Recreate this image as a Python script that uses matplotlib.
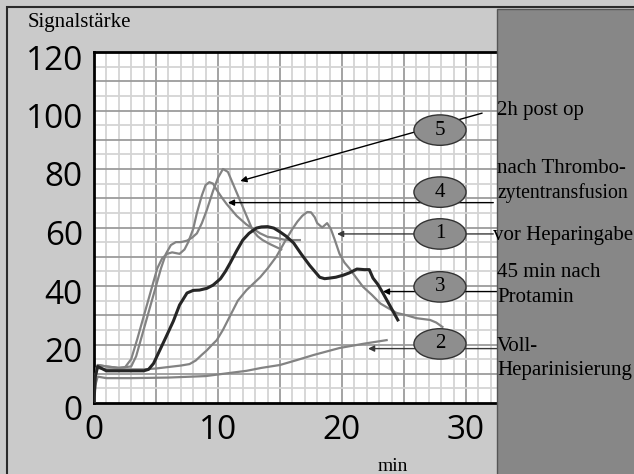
import matplotlib.pyplot as plt
from matplotlib.patches import Rectangle, Ellipse
from matplotlib.transforms import ScaledTranslation
from matplotlib.ticker import MultipleLocator

# Curve data (min, Signalstaerke)
x_vor = [0, 0.2, 1, 2, 3, 4, 5, 6, 7, 7.7, 8.2, 8.7, 9.1, 9.5, 9.9, 10.4, 11.0, 11.6, 12.3,
         12.9, 13.4, 14.0, 14.7, 15.5, 16.0, 16.4, 16.8, 17.2, 17.5, 17.8, 18.0, 18.4,
         18.8, 19.1, 19.4, 19.8, 20.2, 20.6, 21.2, 21.7, 22.4, 23.1, 23.7, 24.4, 25.2,
         26.0, 27.1, 27.6, 28.1]
y_vor = [0, 12, 11.5, 11.5, 11.5, 11.5, 11.8, 12.3, 12.8, 13.3, 14.5, 16.5, 18, 19.8,
         21.5, 25, 30, 35, 38.6, 41, 43, 46, 50, 56, 59.5, 62, 64, 65.3, 65.2, 63.5, 61.5,
         60, 61.5, 59.5, 56, 51, 48, 46, 42.5, 39.7, 37, 34, 32.5, 30.8, 30, 29, 28.4,
         27.5, 26]

x_voll = [0, 0.1, 0.3, 1, 3, 6, 9, 11, 12.3, 13.5, 15, 16.3, 17.7, 19.8, 21.8, 23.6]
y_voll = [0, 6, 9, 8.5, 8.5, 8.7, 9.2, 10.3, 11, 12, 13, 14.6, 16.4, 18.8, 20.3, 21.5]

x_prot = [0, 0.1, 0.3, 1, 2, 3, 4, 4.4, 4.8, 5.3, 5.8, 6.4, 6.9, 7.5, 8.0, 8.5, 9.1, 9.6,
          10.2, 10.6, 11.0, 11.5, 12.0, 12.5, 13.1, 13.5, 14.0, 14.5, 15.0, 15.5, 16.1,
          16.7, 17.4, 17.8, 18.2, 18.6, 19.0, 19.5, 20.1, 20.6, 21.2, 21.8, 22.2, 22.5,
          22.9, 23.3, 23.9, 24.5]
y_prot = [0, 9, 12.5, 11, 11, 11, 11, 11.5, 13.5, 18, 22.5, 28, 33.5, 37.6, 38.5, 38.6,
          39.2, 40.3, 42.5, 45, 48, 52, 55.7, 58, 59.8, 60.2, 60.3, 59.8, 58.5, 57,
          54.7, 51, 47, 45, 43, 42.5, 42.7, 43, 43.7, 44.5, 45.8, 45.6, 45.6, 42.7, 40.5,
          37.6, 33, 28.4]

x_thromb = [0, 0.1, 0.3, 1, 2, 2.5, 3.0, 3.5, 4.3, 5.1, 5.5, 5.9, 6.3, 6.9, 7.3, 7.6, 8.0,
            8.3, 8.7, 9.0, 9.3, 9.6, 9.9, 10.3, 10.7, 11.1, 11.5, 12.3, 13.4, 14.0, 14.7,
            15.5, 16.6]
y_thromb = [0, 9, 13, 12.5, 12, 12.2, 15, 22, 34, 46, 49.5, 51, 51.5, 51, 52.5, 55, 59.5,
            65, 71, 74.5, 75.5, 75, 72.8, 70.3, 68, 66, 64, 61, 58, 56.8, 56.4, 55.7,
            55.7]

x_post = [0, 0.1, 0.3, 1, 2, 3, 3.4, 3.8, 4.6, 5.4, 5.8, 6.2, 6.6, 7.0, 7.5, 7.9, 8.3, 8.7,
          9.1, 9.6, 10.0, 10.4, 10.8, 11.2, 11.6, 12.0, 12.4, 12.8, 13.2, 13.6, 14.2, 14.7,
          15.1]
y_post = [0, 9, 13, 12.5, 12, 12.5, 16, 22, 34, 46, 51, 54, 55, 55, 55.5, 56.5, 58, 61.5,
          66, 72.5, 77, 80, 79, 75, 71, 67, 63, 59, 57, 55.7, 54.3, 53.3, 52.5]

# marker number, label text, arrow tail (x, y), arrow head (x, y), ellipse centre y
marks = [
    ("5", "2h post op", (31.3, 99.1), (11.8, 75.9), 93.3),
    ("4", "nach Thrombo-\nzytentransfusion", (32.2, 68.5), (10.8, 68.5), 72.1),
    ("1", "vor Heparingabe", (32.2, 57.8), (19.6, 57.8), 57.8),
    ("3", "45 min nach\nProtamin", (32.5, 38.1), (23.3, 38.1), 39.7),
    ("2", "Voll-\nHeparinisierung", (32.5, 18.6), (22.1, 18.6), 20.2),
]

W, H = 634, 474
fig = plt.figure(figsize=(W / 100, H / 100), dpi=100, facecolor='#cacaca')
ax = fig.add_axes([94 / W, 1 - 403 / H, (497 - 94) / W, (403 - 52) / H])
ax.set_facecolor('white')

gray = '#838383'
for xs, ys in [(x_voll, y_voll), (x_vor, y_vor), (x_thromb, y_thromb), (x_post, y_post)]:
    ax.plot(xs, ys, color=gray, lw=1.6, zorder=3, solid_joinstyle='round')
ax.plot(x_prot, y_prot, color='#262626', lw=2.2, zorder=4, solid_joinstyle='round')

ax.set_xlim(0, 32.5)
ax.set_ylim(0, 120)
ax.xaxis.set_major_locator(MultipleLocator(10))
ax.yaxis.set_major_locator(MultipleLocator(20))

# graph paper grid
for v in range(1, 33):
    ax.axvline(v, color='#9c9c9c' if v % 5 == 0 else '#d4d4d4', lw=1.3, zorder=1)
for v in range(5, 120, 5):
    ax.axhline(v, color='#9c9c9c' if v % 10 == 0 else '#d4d4d4', lw=1.3, zorder=1)

for s in ['left', 'bottom', 'top']:
    ax.spines[s].set_linewidth(2)
    ax.spines[s].set_color('black')
ax.spines['right'].set_visible(False)

ax.tick_params(length=0, labelsize=24, pad=8)
for lab in ax.get_xticklabels() + ax.get_yticklabels():
    lab.set_fontfamily('Open Sans')
for lab in ax.get_yticklabels():
    lab.set_transform(lab.get_transform() + ScaledTranslation(0, -0.05, fig.dpi_scale_trans))

# right grey panel and outer frame
fig.patches.append(Rectangle((497 / W, -0.1), 0.5, 1.1 - 9 / H, transform=fig.transFigure,
                             facecolor='#878787', edgecolor='#555555', lw=1, zorder=2))
fig.patches.append(Rectangle((7 / W, -0.1), 1, 1.1 - 7 / H, transform=fig.transFigure,
                             fill=False, edgecolor='#2a2a2a', lw=1.5, zorder=2))

serif = 'Liberation Serif'
for num, text, tail, head, ey in marks:
    col = 'black' if num in ('5', '4', '3') else '#3a3a3a'
    ax.annotate('', xy=head, xytext=tail, annotation_clip=False, zorder=5,
                arrowprops=dict(arrowstyle='-|>', color=col, lw=1.0, mutation_scale=9,
                                shrinkA=0, shrinkB=0))
    ax.add_patch(Ellipse((27.9, ey), 4.2, 10.4, facecolor='#8e8e8e', edgecolor='#333333',
                         lw=1.0, zorder=6, clip_on=False))
    ax.text(27.9, ey, num, ha='center', va='center', fontsize=15, family=serif, zorder=7)

label_pos = {"5": [(497, 115)], "4": [(497, 173), (497, 198)], "1": [(493, 240)],
             "3": [(497, 277), (497, 302)], "2": [(497, 351), (497, 375)]}
for num, text, tail, head, ey in marks:
    for (px, py), line in zip(label_pos[num], text.split('\n')):
        size = 14.2 if line == 'zytentransfusion' else 15
        fig.text(px / W, 1 - py / H, line, ha='left', va='baseline', fontsize=size,
                 family=serif, zorder=5)

fig.text(28 / W, 1 - 27 / H, 'Signalstärke', ha='left', va='baseline', fontsize=15, family=serif)
fig.text(378 / W, 1 - 471 / H, 'min', ha='left', va='baseline', fontsize=14, family=serif)

fig.savefig('out.png', dpi=100, facecolor=fig.get_facecolor())
